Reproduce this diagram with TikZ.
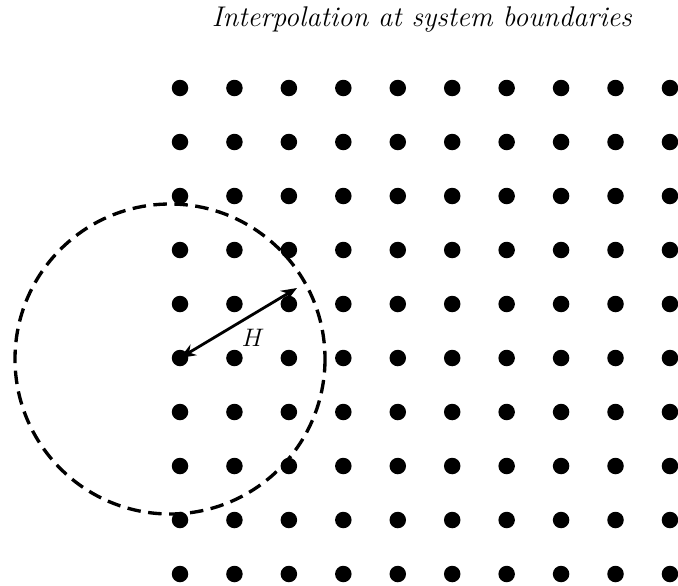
\documentclass[tikz,border=0pt]{standalone}
\usepackage{tikz}
\usepackage{amsmath,amssymb}
\usetikzlibrary{arrows.meta}

\begin{document}
\begin{tikzpicture}[x=0.02cm,y=-0.02cm]
    \useasboundingbox (0,0) rectangle (678,585);

    % Add title
    \node (title) at (422,20) {\fontsize{16.2}{18}\selectfont\textit{Interpolation at system boundaries}};

    % Draw grid of points
    \foreach \i in {0,...,9}
      \foreach \j in {0,...,9}
        \node[circle,fill,inner sep=0pt,minimum size=0.33cm] (p\i\j) at (180+54.44*\i,88+54*\j) {};

    % Draw dashed circle
    \coordinate (c) at (170,359);
    \draw[line width=1.9pt,dash pattern=on 0.27cm off 0.15cm] (c) circle (155);

    % Connect points
    \coordinate (tip) at (297,288);
    \draw[line width=1.6pt,{Stealth[length=9pt,width=7pt]}-{Stealth[length=9pt,width=7pt]}] (p05.center) -- (tip);
    \node (h) at (253,338) {\fontsize{14}{16}\selectfont$H$};
\end{tikzpicture}
\end{document}
